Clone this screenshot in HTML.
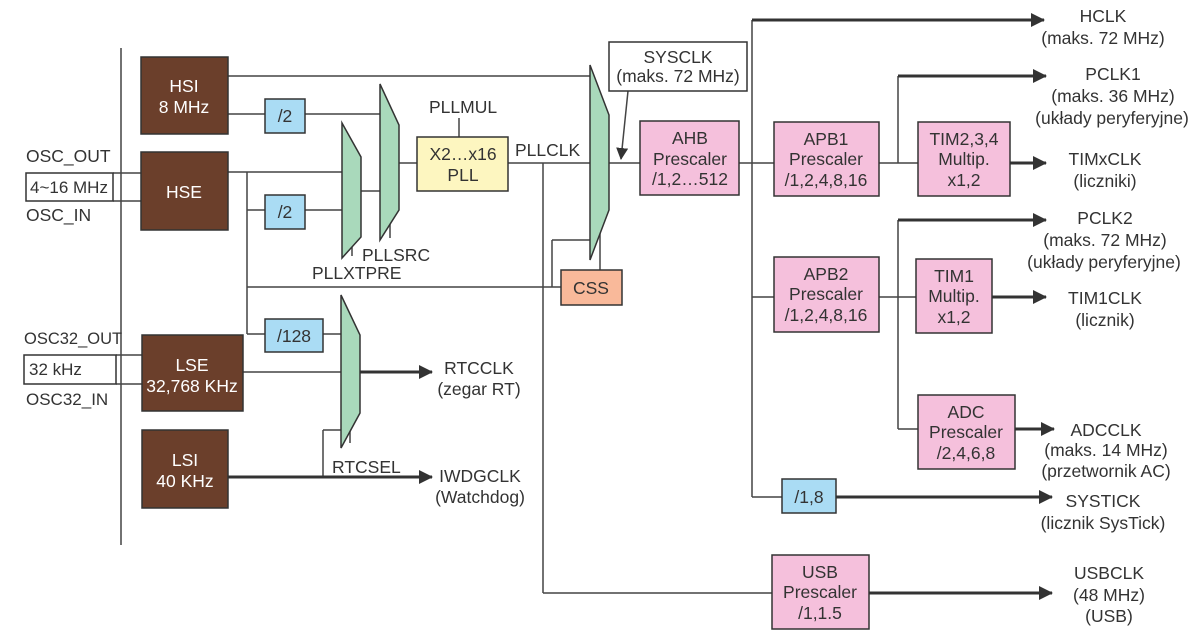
<!DOCTYPE html>
<html><head><meta charset="utf-8"><style>
html,body{margin:0;padding:0;background:#fff;}
svg{display:block;}
text{font-family:"Liberation Sans",sans-serif;fill:#333;font-size:17.5px;}
.w{fill:#fff;}
.c{text-anchor:middle;}
</style></head><body>
<svg width="1202" height="643" viewBox="0 0 1202 643" xmlns="http://www.w3.org/2000/svg">
<defs>
<marker id="a" markerWidth="12" markerHeight="12" refX="11" refY="6" orient="auto" markerUnits="userSpaceOnUse">
<path d="M0,0 L12,6 L0,12 Z" fill="#333"/></marker>
<marker id="a2" markerWidth="14" markerHeight="14" refX="13" refY="7" orient="auto" markerUnits="userSpaceOnUse">
<path d="M0,0 L14,7 L0,14 Z" fill="#333"/></marker>
</defs>
<g stroke="#444" stroke-width="1.5" fill="none">
<line x1="121" y1="48" x2="121" y2="545"/>
<line x1="113" y1="173" x2="141" y2="173"/>
<line x1="113" y1="201" x2="141" y2="201"/>
<line x1="116" y1="355" x2="142" y2="355"/>
<line x1="116" y1="384" x2="142" y2="384"/>
<line x1="228" y1="76" x2="590" y2="76"/>
<line x1="228" y1="114" x2="265" y2="114"/>
<line x1="305" y1="114" x2="380" y2="114"/>
<line x1="228" y1="172" x2="342" y2="172"/>
<line x1="247" y1="172" x2="247" y2="334"/>
<line x1="247" y1="210" x2="265" y2="210"/>
<line x1="305" y1="210" x2="342" y2="210"/>
<line x1="247" y1="287" x2="561" y2="287"/>
<line x1="247" y1="334" x2="265" y2="334"/>
<line x1="323" y1="334" x2="341" y2="334"/>
<line x1="361" y1="191" x2="380" y2="191"/>
<line x1="352" y1="235" x2="352" y2="256"/>
<line x1="390" y1="215" x2="390" y2="238"/>
<line x1="399" y1="163" x2="417" y2="163"/>
<line x1="459" y1="118" x2="459" y2="137"/>
<line x1="508" y1="163" x2="590" y2="163"/>
<line x1="543" y1="163" x2="543" y2="593"/>
<line x1="543" y1="593" x2="772" y2="593"/>
<line x1="552" y1="287" x2="552" y2="240"/>
<line x1="552" y1="240" x2="590" y2="240"/>
<line x1="600" y1="225" x2="600" y2="270"/>
<line x1="609" y1="163" x2="640" y2="163"/>
<line x1="243" y1="372" x2="341" y2="372"/>
<line x1="323" y1="477" x2="323" y2="430"/>
<line x1="323" y1="430" x2="341" y2="430"/>
<line x1="350" y1="420" x2="350" y2="443"/>
<line x1="739" y1="163" x2="774" y2="163"/>
<line x1="752" y1="20" x2="752" y2="497"/>
<line x1="752" y1="497" x2="782" y2="497"/>
<line x1="752" y1="297" x2="774" y2="297"/>
<line x1="879" y1="163" x2="918" y2="163"/>
<line x1="898" y1="76" x2="898" y2="163"/>
<line x1="879" y1="297" x2="916" y2="297"/>
<line x1="898" y1="220" x2="898" y2="429"/>
<line x1="898" y1="429" x2="918" y2="429"/>
<line x1="628" y1="91" x2="621" y2="159" marker-end="url(#a)"/>
</g>
<g stroke="#333" stroke-width="3" fill="none">
<line x1="752" y1="20" x2="1044" y2="20" marker-end="url(#a2)"/>
<line x1="898" y1="76" x2="1046" y2="76" marker-end="url(#a2)"/>
<line x1="1010" y1="163" x2="1046" y2="163" marker-end="url(#a2)"/>
<line x1="898" y1="220" x2="1046" y2="220" marker-end="url(#a2)"/>
<line x1="992" y1="297" x2="1046" y2="297" marker-end="url(#a2)"/>
<line x1="1015" y1="429" x2="1054" y2="429" marker-end="url(#a2)"/>
<line x1="836" y1="497" x2="1052" y2="497" marker-end="url(#a2)"/>
<line x1="869" y1="593" x2="1052" y2="593" marker-end="url(#a2)"/>
<line x1="360" y1="372" x2="432" y2="372" marker-end="url(#a2)"/>
<line x1="228" y1="477" x2="432" y2="477" marker-end="url(#a2)"/>
</g>
<g stroke="#333" stroke-width="1.5">
<rect x="141" y="57" width="87" height="77" fill="#6b3f2b"/>
<rect x="141" y="152" width="87" height="78" fill="#6b3f2b"/>
<rect x="142" y="335" width="101" height="76" fill="#6b3f2b"/>
<rect x="142" y="430" width="86" height="78" fill="#6b3f2b"/>
<rect x="26" y="173" width="87" height="28" fill="#fff"/>
<rect x="24" y="355" width="92" height="29" fill="#fff"/>
<rect x="265" y="99" width="40" height="34" fill="#aadcf4"/>
<rect x="265" y="195" width="40" height="34" fill="#aadcf4"/>
<rect x="265" y="319" width="58" height="33" fill="#aadcf4"/>
<rect x="782" y="479" width="54" height="34" fill="#aadcf4"/>
<rect x="417" y="137" width="91" height="54" fill="#fdf6c0"/>
<rect x="561" y="270" width="61" height="35" fill="#f9b99a"/>
<rect x="609" y="42" width="138" height="49" fill="#fff"/>
<rect x="640" y="121" width="99" height="74" fill="#f5c0dc"/>
<rect x="774" y="122" width="105" height="74" fill="#f5c0dc"/>
<rect x="918" y="122" width="92" height="74" fill="#f5c0dc"/>
<rect x="774" y="257" width="105" height="75" fill="#f5c0dc"/>
<rect x="916" y="259" width="76" height="74" fill="#f5c0dc"/>
<rect x="918" y="395" width="97" height="74" fill="#f5c0dc"/>
<rect x="772" y="555" width="97" height="74" fill="#f5c0dc"/>
<polygon points="342,123 361,157 361,237 342,258" fill="#a9d9bb"/>
<polygon points="380,84 399,125 399,210 380,240" fill="#a9d9bb"/>
<polygon points="590,65 609,115 609,210 590,260" fill="#a9d9bb"/>
<polygon points="341,295 360,335 360,413 341,448" fill="#a9d9bb"/>
</g>
<text class="w c" x="184" y="92">HSI</text>
<text class="w c" x="184" y="113">8 MHz</text>
<text class="w c" x="184" y="198">HSE</text>
<text class="w c" x="192" y="371">LSE</text>
<text class="w c" x="192" y="392">32,768 KHz</text>
<text class="w c" x="185" y="466">LSI</text>
<text class="w c" x="185" y="487">40 KHz</text>
<text x="26" y="162">OSC_OUT</text>
<text x="30" y="193" style="font-size:17px">4~16 MHz</text>
<text x="26" y="221">OSC_IN</text>
<text x="24" y="344" style="font-size:16.5px">OSC32_OUT</text>
<text x="29" y="375" style="font-size:17px">32 kHz</text>
<text x="26" y="405" style="font-size:17px">OSC32_IN</text>
<text class="c" x="285" y="122">/2</text>
<text class="c" x="285" y="218">/2</text>
<text class="c" x="294" y="342">/128</text>
<text class="c" x="809" y="503">/1,8</text>
<text x="362" y="261">PLLSRC</text>
<text x="312" y="279">PLLXTPRE</text>
<text x="429" y="113">PLLMUL</text>
<text class="c" x="463" y="160">X2…x16</text>
<text class="c" x="463" y="181">PLL</text>
<text x="515" y="156">PLLCLK</text>
<text class="c" x="591" y="294">CSS</text>
<text class="c" x="678" y="63">SYSCLK</text>
<text class="c" x="678" y="82">(maks. 72 MHz)</text>
<text class="c" x="690" y="144">AHB</text>
<text class="c" x="690" y="165">Prescaler</text>
<text class="c" x="690" y="185">/1,2…512</text>
<text class="c" x="826" y="145">APB1</text>
<text class="c" x="826" y="165">Prescaler</text>
<text class="c" x="826" y="186">/1,2,4,8,16</text>
<text class="c" x="964" y="145">TIM2,3,4</text>
<text class="c" x="964" y="165">Multip.</text>
<text class="c" x="964" y="186">x1,2</text>
<text class="c" x="826" y="280">APB2</text>
<text class="c" x="826" y="300">Prescaler</text>
<text class="c" x="826" y="321">/1,2,4,8,16</text>
<text class="c" x="954" y="282">TIM1</text>
<text class="c" x="954" y="302">Multip.</text>
<text class="c" x="954" y="323">x1,2</text>
<text class="c" x="966" y="418">ADC</text>
<text class="c" x="966" y="438">Prescaler</text>
<text class="c" x="966" y="459">/2,4,6,8</text>
<text class="c" x="820" y="578">USB</text>
<text class="c" x="820" y="598">Prescaler</text>
<text class="c" x="820" y="619">/1,1.5</text>
<text class="c" x="479" y="374">RTCCLK</text>
<text class="c" x="479" y="395">(zegar RT)</text>
<text x="332" y="473">RTCSEL</text>
<text class="c" x="480" y="482">IWDGCLK</text>
<text class="c" x="480" y="503">(Watchdog)</text>
<text class="c" x="1103" y="22">HCLK</text>
<text class="c" x="1103" y="44">(maks. 72 MHz)</text>
<text class="c" x="1113" y="80">PCLK1</text>
<text class="c" x="1113" y="102">(maks. 36 MHz)</text>
<text class="c" x="1112" y="124">(układy peryferyjne)</text>
<text class="c" x="1105" y="165">TIMxCLK</text>
<text class="c" x="1105" y="187">(liczniki)</text>
<text class="c" x="1105" y="224">PCLK2</text>
<text class="c" x="1105" y="246">(maks. 72 MHz)</text>
<text class="c" x="1104" y="268">(układy peryferyjne)</text>
<text class="c" x="1105" y="304">TIM1CLK</text>
<text class="c" x="1105" y="326">(licznik)</text>
<text class="c" x="1106" y="436">ADCCLK</text>
<text class="c" x="1106" y="456">(maks. 14 MHz)</text>
<text class="c" x="1106" y="477">(przetwornik AC)</text>
<text class="c" x="1103" y="507">SYSTICK</text>
<text class="c" x="1103" y="529">(licznik SysTick)</text>
<text class="c" x="1109" y="579">USBCLK</text>
<text class="c" x="1109" y="601">(48 MHz)</text>
<text class="c" x="1109" y="622">(USB)</text>
</svg>
</body></html>
